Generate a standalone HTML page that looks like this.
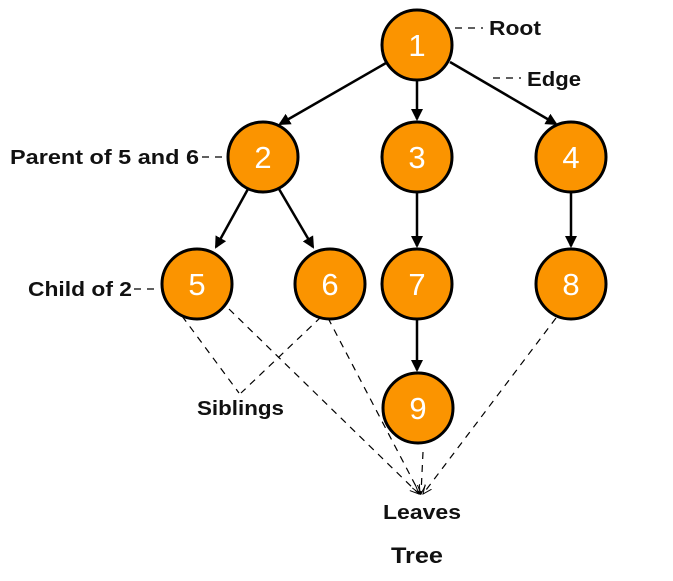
<!DOCTYPE html>
<html><head><style>
body{margin:0;background:#fff;}
svg{display:block;}
text{font-family:"Liberation Sans",Helvetica,Arial,sans-serif;}
</style></head><body>
<svg width="673" height="581" viewBox="0 0 673 581" xmlns="http://www.w3.org/2000/svg">
<defs>
<marker id="a" markerWidth="12" markerHeight="12" refX="10" refY="6" orient="auto" markerUnits="userSpaceOnUse" viewBox="0 0 12 12"><path d="M0,0 L12,6 L0,12 z" fill="#000"/></marker>
<marker id="o" markerWidth="10" markerHeight="10" refX="9" refY="5" orient="auto" markerUnits="userSpaceOnUse" viewBox="0 0 10 10"><path d="M0,1 L9,5 L0,9" fill="none" stroke="#000" stroke-width="1"/></marker>
</defs>
<g stroke="#000" stroke-width="1.2" stroke-dasharray="7,6" fill="none">
<line x1="182" y1="316" x2="239" y2="393"/>
<line x1="321" y1="317" x2="241" y2="393"/>
<line x1="229" y1="309" x2="419" y2="494" marker-end="url(#o)"/>
<line x1="328" y1="318" x2="420" y2="494" marker-end="url(#o)"/>
<line x1="423" y1="452" x2="421" y2="494" marker-end="url(#o)"/>
<line x1="556" y1="318" x2="423" y2="494" marker-end="url(#o)"/>
<line x1="455" y1="28" x2="483" y2="28"/>
<line x1="493" y1="78" x2="521" y2="78"/>
<line x1="202" y1="157" x2="225" y2="157"/>
<line x1="134" y1="289" x2="158" y2="289"/>
</g>
<g stroke="#000" stroke-width="2.5" fill="none">
<line x1="386" y1="63" x2="280" y2="124" marker-end="url(#a)"/>
<line x1="417" y1="81" x2="417" y2="119" marker-end="url(#a)"/>
<line x1="450" y1="62" x2="556" y2="124" marker-end="url(#a)"/>
<line x1="248" y1="189" x2="216" y2="247" marker-end="url(#a)"/>
<line x1="279" y1="189" x2="313" y2="247" marker-end="url(#a)"/>
<line x1="417" y1="193" x2="417" y2="246" marker-end="url(#a)"/>
<line x1="571" y1="193" x2="571" y2="246" marker-end="url(#a)"/>
<line x1="417" y1="320" x2="417" y2="370" marker-end="url(#a)"/>
</g>
<g fill="#fb9400" stroke="#000" stroke-width="3">
<circle cx="417" cy="45" r="35"/>
<circle cx="263" cy="157" r="35"/>
<circle cx="417" cy="157" r="35"/>
<circle cx="571" cy="157" r="35"/>
<circle cx="197" cy="284" r="35"/>
<circle cx="330" cy="284" r="35"/>
<circle cx="417" cy="284" r="35"/>
<circle cx="571" cy="284" r="35"/>
<circle cx="418" cy="408" r="35"/>
</g>
<g fill="#fff" font-size="31" text-anchor="middle">
<text x="417" y="56">1</text>
<text x="263" y="168">2</text>
<text x="417" y="168">3</text>
<text x="571" y="168">4</text>
<text x="197" y="295">5</text>
<text x="330" y="295">6</text>
<text x="417" y="295">7</text>
<text x="571" y="295">8</text>
<text x="418" y="419">9</text>
</g>
<g fill="#111" font-size="20" font-weight="bold" lengthAdjust="spacingAndGlyphs">
<text x="489" y="35" textLength="52" lengthAdjust="spacingAndGlyphs">Root</text>
<text x="527" y="86" textLength="54" lengthAdjust="spacingAndGlyphs">Edge</text>
<text x="10" y="164" textLength="189" lengthAdjust="spacingAndGlyphs">Parent of 5 and 6</text>
<text x="28" y="296" textLength="104" lengthAdjust="spacingAndGlyphs">Child of 2</text>
<text x="197" y="415" textLength="87" lengthAdjust="spacingAndGlyphs">Siblings</text>
<text x="383" y="519" textLength="78" lengthAdjust="spacingAndGlyphs">Leaves</text>
<text x="391" y="563" font-size="22" textLength="52" lengthAdjust="spacingAndGlyphs">Tree</text>
</g>
</svg>
</body></html>
